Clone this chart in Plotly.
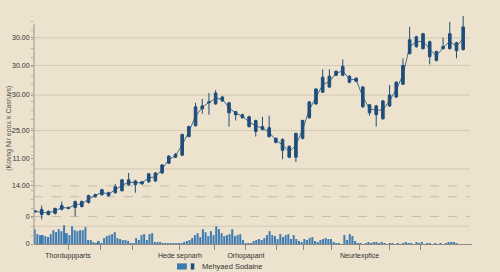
import numpy as np
import plotly.graph_objects as go

# ---------------- data ----------------
candle_idx = list(range(65))
opens = [14.4, 13.3, 13.3, 13.8, 15.6, 16.0, 16.4, 16.9, 18.7, 21.3, 22.2, 21.8, 23.1, 24.0, 26.7, 26.7,
         27.1, 28.0, 28.4, 32.0, 36.4, 39.1, 40.0, 48.4, 53.3, 60.9, 63.6, 63.1,
         66.2, 63.6, 59.6, 58.2, 57.3, 55.6, 52.9, 52.4, 47.6, 47.1, 44.0,
         39.1, 47.6, 56.9, 63.1, 68.4, 70.7, 76.0, 76.0,
         75.6, 74.7, 70.7, 62.7, 62.2,
         56.4, 62.2, 66.2, 72.0, 85.8, 88.9, 88.0,
         91.1, 86.7, 88.0, 88.0, 90.7, 87.6]
closes = [14.9, 15.6, 14.7, 16.0, 17.3, 16.4, 19.1, 19.1, 21.8, 22.2, 24.4, 23.1, 25.8, 28.9, 28.9, 28.4,
          28.0, 31.6, 32.0, 35.6, 39.6, 40.4, 49.3, 52.9, 61.8, 62.2, 64.0, 68.0,
          64.4, 59.1, 58.2, 56.9, 52.9, 50.7, 51.6, 48.4, 45.8, 42.2, 39.1,
          49.8, 55.6, 64.0, 69.8, 75.1, 75.6, 77.8, 80.0,
          72.9, 73.3, 61.8, 59.1, 58.2,
          64.4, 67.1, 72.9, 80.4, 92.0, 93.3, 94.7,
          84.4, 82.7, 88.9, 94.7, 87.1, 97.8]
highs = [15.1, 17.3, 15.1, 16.4, 19.1, 16.9, 19.6, 19.6, 22.2, 22.7, 24.9, 23.6, 27.1, 29.3, 32.0, 28.9,
         28.4, 32.0, 32.4, 36.0, 40.0, 40.9, 49.8, 53.3, 63.6, 65.3, 68.0, 69.3,
         66.7, 64.0, 60.0, 58.7, 57.8, 56.0, 57.3, 57.8, 48.0, 47.6, 44.4,
         50.2, 56.0, 64.4, 70.2, 78.7, 78.7, 78.2, 83.1,
         76.0, 75.1, 71.1, 63.1, 62.7,
         64.9, 71.6, 73.3, 83.6, 97.8, 93.8, 95.1,
         91.6, 87.1, 92.9, 100.0, 91.1, 102.7]
lows = [14.2, 11.1, 12.9, 13.3, 15.1, 15.6, 12.4, 16.4, 18.2, 20.9, 21.8, 21.3, 22.7, 23.6, 26.2, 23.1,
        26.7, 27.6, 28.0, 31.6, 36.0, 38.7, 39.6, 48.0, 52.9, 58.7, 58.2, 62.7,
        64.0, 52.9, 55.6, 56.4, 52.4, 48.4, 51.1, 48.0, 45.3, 38.2, 38.7,
        36.9, 47.1, 56.4, 62.7, 68.0, 70.2, 75.6, 75.6,
        72.4, 72.9, 61.3, 57.8, 52.9,
        56.0, 61.8, 65.8, 71.6, 85.3, 88.4, 87.6,
        80.9, 82.2, 87.6, 87.6, 83.6, 87.1]

volume = [15, 10, 9, 9, 8, 7, 10, 14, 12, 15, 13, 19, 11, 9, 18, 14, 13, 14, 14, 17,
          4, 4, 2, 1, 3, 1, 6, 8, 9, 10, 12, 6, 5, 4, 4, 3, 1, 1, 6, 4,
          9, 10, 4, 10, 11, 2, 2, 2, 1, 1, 1, 1, 1, 1,
          1, 1, 2, 3, 4, 6, 9, 11, 7, 15, 12, 8, 13, 9, 18, 15, 11, 8, 9, 10,
          15, 8, 9, 10, 4, 1, 1, 1, 3, 4, 5, 4, 6, 9, 13, 9, 8, 5, 10, 7,
          9, 10, 5, 9, 5, 3, 2, 5, 4, 6, 7, 3, 2, 4, 5, 6,
          5, 5, 2, 1, 1, 0, 9, 4, 10, 8, 3, 1, 1, 0, 1, 2, 1, 2, 2, 1,
          2, 1, 0, 1, 1, 0, 1, 0, 1, 2, 1, 1, 0, 2, 1, 2, 0, 1, 1, 0,
          1, 0, 1, 0, 1, 2, 2, 2, 1]
volume_idx = list(range(len(volume)))

y_tick_vals = [92.9, 80.4, 67.1, 51.1, 38.7, 26.2, 12.4, 0]
y_tick_text = ["30.00", "30.00", "30.00", "25.00", "11.00", "14.00", "0", "0"]

x_tick_vals = [12.5, 24.8, 36.8, 54.4, 67.5, 79.1, 90.4, 100.5, 111.3, 121.7, 133.0, 144.6]
x_tick_text = ["Thorduppparts", "", "", "Hede sepnarh", "", "Orhopapant", "", "", "", "Neurtexpfice", "", ""]

grid_solid = [92.9, 80.4, 67.1, 51.1, 33.8, 8.0]
grid_dashed = [26.2, 21.3, 12.4]

y_title = "(Kovsg Nir epox k Casruys)"
legend_label = "Mehyaed Sodaine"

# ---------------- style ----------------
BG = "#ece2cd"
CANDLE = "#1e4d7a"
VOL = "#3d7bb3"
FONT = "Liberation Sans"

fig = go.Figure()

fig.add_trace(go.Bar(
    x=volume_idx, y=volume, xaxis="x2", yaxis="y2",
    marker=dict(color=VOL, line=dict(width=0)), showlegend=False,
))

mid = (np.array(opens) + np.array(closes)) / 2.0
fig.add_trace(go.Scatter(
    x=candle_idx, y=mid, mode="lines",
    line=dict(color=CANDLE, width=0.8), showlegend=False, hoverinfo="skip",
))

fig.add_trace(go.Candlestick(
    x=candle_idx, open=opens, high=highs, low=lows, close=closes,
    increasing=dict(line=dict(color=CANDLE, width=1), fillcolor=CANDLE),
    decreasing=dict(line=dict(color=CANDLE, width=1), fillcolor=CANDLE),
    whiskerwidth=0, showlegend=False,
))

shapes = []
for lv in grid_solid:
    shapes.append(dict(type="line", xref="paper", yref="y", x0=0, x1=0.995, y0=lv, y1=lv,
                       line=dict(color="#d3c9b5", width=1), layer="below"))
for lv in grid_dashed:
    shapes.append(dict(type="line", xref="paper", yref="y", x0=0, x1=0.995, y0=lv, y1=lv,
                       line=dict(color="#bdb4a3", width=0.8, dash="dash"), layer="below"))
# left axis line
shapes.append(dict(type="line", xref="paper", yref="y", x0=0, x1=0, y0=0, y1=99.1,
                   line=dict(color="#9a958c", width=1)))
# legend swatches
shapes.append(dict(type="rect", xref="paper", yref="paper", x0=0.3265, x1=0.349, y0=-0.112, y1=-0.085,
                   line=dict(width=0), fillcolor=VOL))
shapes.append(dict(type="rect", xref="paper", yref="paper", x0=0.358, x1=0.366, y0=-0.112, y1=-0.085,
                   line=dict(width=0), fillcolor=CANDLE))

fig.update_layout(
    width=500, height=272,
    margin=dict(l=34, r=28, t=16, b=25),
    paper_bgcolor=BG, plot_bgcolor=BG,
    font=dict(family=FONT, size=7, color="#333333"),
    bargap=0.25,
    boxgap=0.45,
    xaxis=dict(range=[-0.15, 65.32], visible=False, rangeslider=dict(visible=False)),
    xaxis2=dict(range=[-0.26, 163.8], overlaying="x", anchor="y2", side="bottom",
                showline=True, linecolor="#8e8a82", linewidth=1,
                ticks="outside", ticklen=5, tickcolor="#8e8a82",
                tickmode="array", tickvals=x_tick_vals, ticktext=x_tick_text,
                showgrid=False, zeroline=False,
                tickfont=dict(family=FONT, size=7, color="#333333")),
    yaxis=dict(range=[0, 102.7], showgrid=False, zeroline=False, showline=False,
               tickmode="array", tickvals=y_tick_vals, ticktext=y_tick_text,
               ticks="outside", ticklen=2, tickcolor="#9a958c",
               minor=dict(tickmode="linear", tick0=0, dtick=4, ticks="outside", ticklen=2,
                          tickcolor="#b5ae9f"),
               tickfont=dict(family=FONT, size=7, color="#333333")),
    yaxis2=dict(range=[0, 231], overlaying="y", visible=False),
    shapes=shapes,
    annotations=[
        dict(text=y_title, xref="paper", yref="paper", x=-0.059, y=0.506, textangle=-90,
             showarrow=False, font=dict(family=FONT, size=7, color="#555555"),
             xanchor="center", yanchor="middle"),
        dict(text=legend_label, xref="paper", yref="paper", x=0.379, y=-0.098,
             showarrow=False, font=dict(family=FONT, size=7.5, color="#333333"),
             xanchor="left", yanchor="middle"),
    ],
)

fig.write_html("out.html")
